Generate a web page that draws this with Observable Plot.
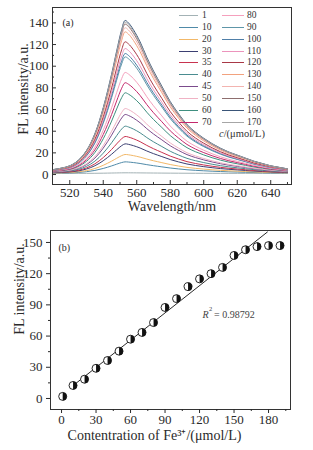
<!DOCTYPE html>
<html><head><meta charset="utf-8">
<script src="https://cdn.jsdelivr.net/npm/d3@7"></script>
<script src="https://cdn.jsdelivr.net/npm/@observablehq/plot@0.6"></script>
<style>
body{margin:0;background:#fff;}
#wrap{position:relative;width:313px;height:450px;font-family:"Liberation Serif",serif;color:#222;overflow:hidden;}
#wrap svg{display:block;}
.lg-line{position:absolute;height:1px;}
.lg-txt{position:absolute;font-size:9.5px;line-height:10px;white-space:nowrap;color:#333;}
</style></head><body>
<div id="wrap"><div id="pa"></div><div id="pb"></div><div id="legend"></div></div>
<script>
// ---- Panel (a): fluorescence spectra ----
const concentrations = [1,10,20,30,35,40,45,50,60,70,80,90,100,110,120,130,140,150,160,170];
const peakIntensity = [1.6,11.7,18.5,28.3,35.1,44.6,55.4,60.9,75.4,84.7,94.2,108.6,111.7,116.3,122.5,131.7,135.5,138.8,142.2,140.5];
const lineColors = ["#a3b2b5","#4f8aa8","#f2b868","#3b3f72","#c8334f","#4a8c90","#7b4b8c","#f0b2c4","#3f8f80","#c4286c",
                    "#f5a0bd","#5e96a8","#4f7fa8","#ec94bc","#a83846","#f2a27e","#f3b4b0","#8e6e6e","#3a5578","#a6a6a6"];
const wavelengths = [510,515,520,525,530,535,540,545,548,551,553,555,558,562,566,570,575,580,585,590,595,600,605,610,615,620,625,630,635,640,645,650];
const spectrumShape = [0.025,0.035,0.05,0.085,0.15,0.26,0.43,0.65,0.80,0.94,1.0,0.985,0.94,0.86,0.76,0.67,0.57,0.47,0.39,0.32,0.27,0.23,0.195,0.165,0.14,0.12,0.10,0.08,0.065,0.05,0.04,0.03];
const baseline = 1;
const xTicksA = [520,540,560,580,600,620,640];
const xMinorA = [530,550,570,590,610,630,650];
const yTicksA = [0,20,40,60,80,100,120,140];
const yMinorA = [10,30,50,70,90,110,130,150];

// ---- Panel (b): calibration ----
const feConc = [1,10,20,30,40,50,60,70,80,90,100,110,120,130,140,150,160,170,180,190];
const flIntensity = [2,12.5,18.5,29,36.5,45.5,57,63.5,73,87.5,96,107.5,115,120,126,137.5,143,146,147,147];
const fitIntercept = 3.6, fitSlope = 0.874;
const fitRange = [8, 179];
const xTicksB = [0,30,60,90,120,150,180];
const xMinorB = [15,45,75,105,135,165,195];
const yTicksB = [0,30,60,90,120,150];
const yMinorB = [15,45,75,105,135];

const spectra = [];
concentrations.forEach((c, i) => {
  wavelengths.forEach((w, j) => {
    spectra.push({c: String(c), w, v: baseline + (peakIntensity[i] - baseline) * spectrumShape[j]});
  });
});

const font = "Liberation Serif";
const ink = "#2a2a2a";

// Panel a
{
  const W = 313, H = 225, mt = 7, mb = 41, ml = 52, mr = 22;
  const fw = W - ml - mr, fh = H - mt - mb;
  const pa = Plot.plot({
    width: W, height: H, marginTop: mt, marginBottom: mb, marginLeft: ml, marginRight: mr,
    style: {fontFamily: font, fontSize: "13px", background: "#fff", color: ink},
    x: {domain: [509.7, 652.4]},
    y: {domain: [-9.2, 154.2]},
    color: {domain: concentrations.map(String), range: lineColors},
    marks: [
      Plot.line(spectra, {x: "w", y: "v", z: "c", stroke: "c", strokeWidth: 1, curve: "catmull-rom"}),
      Plot.frame({stroke: "#333", strokeWidth: 1}),
      Plot.tickX(xTicksA, {x: d => d, insetTop: fh - 4, stroke: "#333"}),
      Plot.tickX(xMinorA, {x: d => d, insetTop: fh - 2, stroke: "#333"}),
      Plot.tickY(yTicksA, {y: d => d, insetRight: fw - 4, stroke: "#333"}),
      Plot.tickY(yMinorA, {y: d => d, insetRight: fw - 2, stroke: "#333"}),
      Plot.axisX({ticks: xTicksA, tickSize: 0, tickPadding: 3, label: null, fontSize: 13}),
      Plot.axisY({ticks: yTicksA, tickSize: 0, tickPadding: 4, label: null, fontSize: 13}),
      Plot.text(["Wavelength/nm"], {frameAnchor: "bottom", lineAnchor: "middle", textAnchor: "middle", dy: 22, text: d => d, fontSize: 14, fill: ink}),
      Plot.text(["FL intensity/a.u."], {frameAnchor: "left", lineAnchor: "middle", textAnchor: "middle", dx: -29, dy: -7, rotate: -90, text: d => d, fontSize: 14, fill: ink}),
      Plot.text(["(a)"], {frameAnchor: "top-left", dx: 10, dy: 11, text: d => d, fontSize: 10, textAnchor: "start", fill: ink})
    ]
  });
  document.getElementById("pa").append(pa);
}

// Panel b
{
  const W = 313, H = 225, mt = 5, mb = 41, ml = 50, mr = 23;
  const pts = feConc.map((x, i) => ({x, y: flIntensity[i]}));
  const fit = fitRange.map(x => ({x, y: fitIntercept + fitSlope * x}));
  const rightHalf = {
    draw(ctx, size) {
      const r = Math.sqrt(size / Math.PI);
      ctx.moveTo(0, -r);
      ctx.arc(0, 0, r, -Math.PI / 2, Math.PI / 2);
      ctx.closePath();
    }
  };
  const pb = Plot.plot({
    width: W, height: H, marginTop: mt, marginBottom: mb, marginLeft: ml, marginRight: mr,
    style: {fontFamily: font, fontSize: "13px", background: "#fff", color: ink},
    x: {domain: [-9.6, 199.1]},
    y: {domain: [-10.6, 161.5]},
    marks: [
      Plot.line(fit, {x: "x", y: "y", stroke: "#111", strokeWidth: 0.9}),
      Plot.dot(pts, {x: "x", y: "y", r: 4, fill: "#fff", stroke: "#111", strokeWidth: 0.9}),
      Plot.dot(pts, {x: "x", y: "y", r: 4, symbol: rightHalf, fill: "#111", stroke: "none"}),
      Plot.frame({stroke: "#333", strokeWidth: 1}),
      Plot.axisX({ticks: xTicksB, tickSize: 4, tickPadding: 1, label: null, fontSize: 13}),
      Plot.axisX({ticks: xMinorB, tickSize: 2, tickFormat: () => "", label: null}),
      Plot.axisY({ticks: yTicksB, tickSize: 4, tickPadding: 4, label: null, fontSize: 13}),
      Plot.axisY({ticks: yMinorB, tickSize: 2, tickFormat: () => "", label: null}),
      Plot.text(["Contentration of Fe\u00B3\u207A/(\u03BCmol/L)"], {frameAnchor: "bottom", lineAnchor: "middle", textAnchor: "middle", dx: -16, dy: 26, text: d => d, fontSize: 14, fill: ink}),
      Plot.text(["FL intensity/a.u."], {frameAnchor: "left", lineAnchor: "middle", textAnchor: "middle", dx: -31, dy: -31, rotate: -90, text: d => d, fontSize: 14, fill: ink}),
      Plot.text(["(b)"], {frameAnchor: "top-left", dx: 8, dy: 13, text: d => d, fontSize: 10, textAnchor: "start", fill: ink}),
      Plot.text(["R"], {frameAnchor: "top-left", dx: 152, dy: 80, text: d => d, fontSize: 10, fontStyle: "italic", textAnchor: "start", fill: "#444"}),
      Plot.text(["2"], {frameAnchor: "top-left", dx: 158.5, dy: 76, text: d => d, fontSize: 6.5, textAnchor: "start", fill: "#444"}),
      Plot.text([" = 0.98792"], {frameAnchor: "top-left", dx: 161, dy: 80, text: d => d, fontSize: 10, textAnchor: "start", fill: "#444"})
    ]
  });
  document.getElementById("pb").append(pb);
}

// Legend overlay for panel (a)
{
  const leg = document.getElementById("legend");
  concentrations.forEach((c, i) => {
    const col = i < 10 ? 0 : 1, row = i % 10;
    const top = 15 + 11.86 * row;
    const ln = document.createElement("div");
    ln.className = "lg-line";
    ln.style.left = (col ? 222 : 179) + "px";
    ln.style.width = (col ? 22 : 19) + "px";
    ln.style.top = top + "px";
    ln.style.background = lineColors[i];
    leg.append(ln);
    const tx = document.createElement("div");
    tx.className = "lg-txt";
    tx.style.left = (col ? 247 : 202) + "px";
    tx.style.top = (top - 5) + "px";
    tx.textContent = String(c);
    leg.append(tx);
  });
  const unit = document.createElement("div");
  unit.className = "lg-txt";
  unit.style.left = "219px";
  unit.style.top = "129px";
  unit.style.fontSize = "10.5px";
  unit.innerHTML = "<i>c</i>/(\u03BCmol/L)";
  leg.append(unit);
}
</script>
</body></html>
